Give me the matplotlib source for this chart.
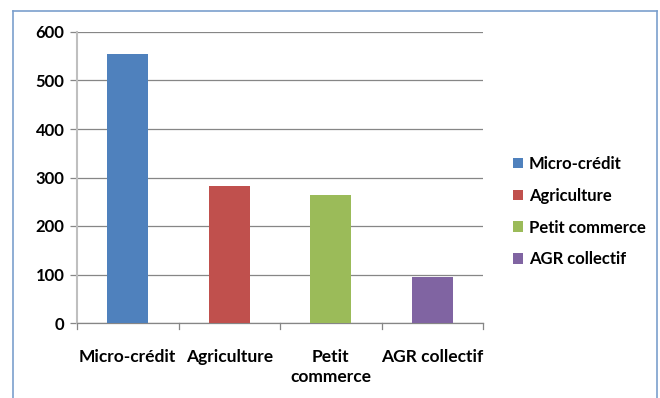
import numpy as np
import matplotlib.pyplot as plt
from matplotlib.patches import Patch
from matplotlib.lines import Line2D

categories = ['Micro-crédit', 'Agriculture', 'Petit\ncommerce', 'AGR collectif']
legend_labels = ['Micro-crédit', 'Agriculture', 'Petit commerce', 'AGR collectif']
values = [555, 282, 263, 94]
colors = ['#4f81bd', '#c0504d', '#9bbb59', '#8064a2']

plt.rcParams['font.family'] = ['Lato', 'DejaVu Sans']
plt.rcParams['font.weight'] = 'bold'

fig = plt.figure(figsize=(6.6, 3.98), dpi=100)
ax = fig.add_axes([77 / 660, 1 - 323 / 398, 406 / 660, 291 / 398])

x = np.arange(len(values))
ax.bar(x, values, width=0.4, color=colors, zorder=3)

ax.set_xlim(-0.5, 3.5)
ax.set_ylim(0, 600)
ax.set_yticks(np.arange(0, 601, 100))
ax.yaxis.grid(True, color='#868686', linewidth=0.9, zorder=0)
ax.set_xticks(x)
ax.set_xticklabels(categories, fontsize=12.5, fontweight='bold', linespacing=1.3)
ax.tick_params(axis='x', length=0, pad=19)
ax.tick_params(axis='y', length=5, width=0.9, color='#868686', labelsize=12, pad=4)
for lbl in ax.get_yticklabels():
    lbl.set_fontweight('bold')

for s in ['top', 'right']:
    ax.spines[s].set_visible(False)
ax.spines['left'].set_color('#bfbfbf')
ax.spines['left'].set_linewidth(1.5)
ax.spines['bottom'].set_color('#868686')
ax.spines['bottom'].set_linewidth(0.9)

# category boundary tick marks
for b in np.arange(-0.5, 4.0, 1.0):
    ax.plot([b, b], [0, -12], color='#868686', linewidth=0.9, clip_on=False)

handles = [Patch(facecolor=c, edgecolor='none') for c in colors]
fig.legend(handles, legend_labels, loc='upper left', bbox_to_anchor=(498 / 660, 1 - 141 / 398),
           frameon=False, handlelength=0.6, handleheight=0.6,
           handletextpad=0.35, labelspacing=0.95, prop={'weight': 'bold', 'size': 12})

# outer chart frame
frame_c = '#7ba0cd'
fig.add_artist(Line2D([13 / 660, 13 / 660], [0, 1 - 11 / 398], color=frame_c, linewidth=1.2))
fig.add_artist(Line2D([13 / 660, 657 / 660], [1 - 11 / 398, 1 - 11 / 398], color=frame_c, linewidth=1.2))
fig.add_artist(Line2D([657 / 660, 657 / 660], [0, 1 - 11 / 398], color=frame_c, linewidth=1.2))

fig.savefig('out.png', dpi=100)
